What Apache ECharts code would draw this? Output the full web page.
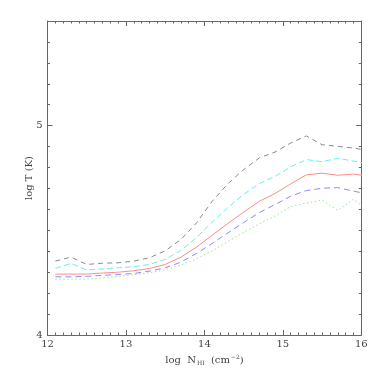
<!DOCTYPE html>
<html><head><meta charset="utf-8">
<script src="https://cdn.jsdelivr.net/npm/echarts@6/dist/echarts.min.js"></script>
<style>html,body{margin:0;padding:0;background:#fff}#c{width:382px;height:382px}</style>
</head><body><div id="c"></div>
<script>
const logN = [12.1,12.3,12.5,12.7,12.9,13.1,13.3,13.5,13.7,13.9,14.1,14.3,14.5,14.7,14.9,15.1,15.3,15.5,15.7,15.9,16.1];
const grayT  = [4.353,4.372,4.337,4.343,4.345,4.353,4.369,4.402,4.456,4.536,4.639,4.723,4.790,4.846,4.874,4.917,4.951,4.909,4.901,4.893,4.881];
const cyanT  = [4.318,4.342,4.310,4.316,4.321,4.326,4.337,4.361,4.404,4.466,4.539,4.609,4.672,4.723,4.758,4.803,4.838,4.828,4.844,4.831,4.817];
const redT   = [4.291,4.291,4.291,4.296,4.300,4.307,4.318,4.337,4.372,4.420,4.477,4.533,4.587,4.639,4.676,4.722,4.765,4.773,4.763,4.769,4.757];
const blueT  = [4.278,4.278,4.280,4.285,4.289,4.294,4.305,4.321,4.348,4.390,4.437,4.488,4.537,4.585,4.623,4.663,4.690,4.701,4.704,4.687,4.673];
const greenT = [4.266,4.267,4.267,4.273,4.280,4.288,4.297,4.312,4.334,4.364,4.402,4.447,4.490,4.531,4.568,4.614,4.630,4.644,4.595,4.649,4.591];
const xTicks = [12,13,14,15,16];
const yTicks = [4,5];

const font = 'DejaVu Serif';
const axisColor = '#666';
function pts(ys){ return logN.map((x,i)=>[x, ys[i]]); }
function xAxis(pos, show){
  return {type:'value', position:pos, min:12, max:16, interval:1,
    axisLine:{show:true, onZero:false, lineStyle:{color:axisColor, width:1}},
    axisTick:{show:true, inside:true, length:5, lineStyle:{color:axisColor}},
    minorTick:{show:true, splitNumber:10, length:2.5, lineStyle:{color:axisColor}},
    splitLine:{show:false},
    axisLabel:{show:show, color:'#444', fontFamily:font, fontSize:10, margin:4,
      formatter:v=>xTicks.includes(v)?String(v):''},
    name: show ? '{a|log  N}{s|HI}{a|  (cm}{p|−2}{a|)}' : '',
    nameLocation:'middle', nameGap:19,
    nameTextStyle:{rich:{
      a:{fontFamily:font, fontSize:10, color:'#444', verticalAlign:'middle'},
      s:{fontFamily:font, fontSize:6, color:'#444', padding:[6,0,0,1]},
      p:{fontFamily:font, fontSize:6, color:'#444', padding:[0,0,6,1]}
    }}
  };
}
function yAxis(pos, show){
  return {type:'value', position:pos, min:4, max:5.5, interval:1,
    axisLine:{show:true, onZero:false, lineStyle:{color:axisColor, width:1}},
    axisTick:{show:true, inside:true, length:5, lineStyle:{color:axisColor}},
    minorTick:{show:true, splitNumber:10, length:2.5, lineStyle:{color:axisColor}},
    splitLine:{show:false},
    axisLabel:{show:show, color:'#444', fontFamily:font, fontSize:10, margin:5,
      formatter:v=>yTicks.includes(v)?String(v):''}
  };
}
function line(data, color, type){
  return {type:'line', data:pts(data), showSymbol:false, symbol:'none', clip:true,
    xAxisIndex:0, yAxisIndex:0,
    lineStyle:{color:color, width:1, type:type}, silent:true, animation:false};
}
const chart = echarts.init(document.getElementById('c'), null, {renderer:'canvas'});
chart.setOption({
  animation:false,
  backgroundColor:'#fff',
  grid:{left:47.5, top:21, right:20.7, bottom:47, containLabel:false},
  xAxis:[xAxis('bottom', true), xAxis('top', false)],
  yAxis:[yAxis('left', true), yAxis('right', false)],
  graphic:[{type:'text', x:29, y:178, rotation:Math.PI/2,
    style:{text:'log T (K)', fontFamily:font, fontSize:10, fill:'#444',
      align:'center', verticalAlign:'middle'}}],
  series:[
    line(grayT, '#8a8a8a', [5,4]),
    line(cyanT, '#66f0f0', [6,3]),
    line(redT, '#ff8a8a', 'solid'),
    line(blueT, '#8a8aff', [6,4]),
    line(greenT, '#8aee8a', [1.5,2.5])
  ]
});
</script></body></html>
